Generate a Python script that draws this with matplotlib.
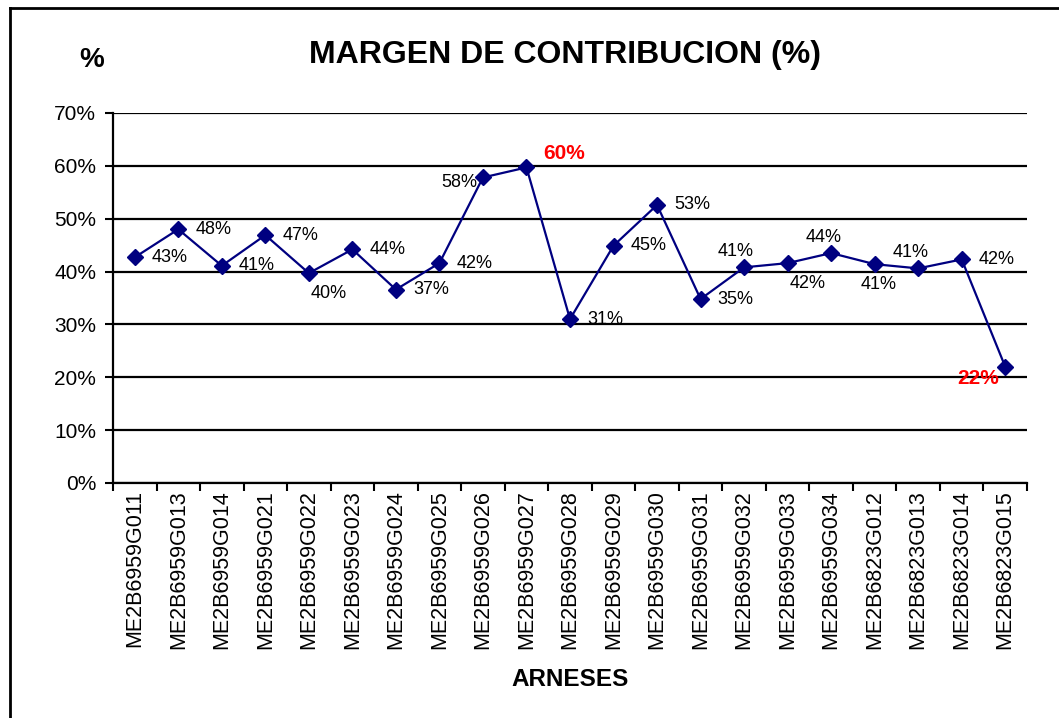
import matplotlib
matplotlib.use("Agg")
import matplotlib.pyplot as plt
from matplotlib.lines import Line2D
import numpy as np

plt.rcParams['font.family'] = ['Liberation Sans', 'DejaVu Sans']

categories = ["ME2B6959G011", "ME2B6959G013", "ME2B6959G014", "ME2B6959G021",
              "ME2B6959G022", "ME2B6959G023", "ME2B6959G024", "ME2B6959G025",
              "ME2B6959G026", "ME2B6959G027", "ME2B6959G028", "ME2B6959G029",
              "ME2B6959G030", "ME2B6959G031", "ME2B6959G032", "ME2B6959G033",
              "ME2B6959G034", "ME2B6823G012", "ME2B6823G013", "ME2B6823G014",
              "ME2B6823G015"]
values = [42.7, 48.0, 41.1, 46.9, 39.7, 44.2, 36.6, 41.6, 57.8, 59.7, 31.0,
          44.9, 52.6, 34.8, 40.8, 41.6, 43.5, 41.4, 40.6, 42.3, 22.0]
# label placement keys
label_pos = ["r", "r", "r", "r", "br", "r", "r", "r", "l", "ar", "r",
             "r", "r", "r", "a", "br", "a", "b", "a", "r", "bl"]
highlight = [9, 20]

W, H = 1059, 718
fig = plt.figure(figsize=(W / 100, H / 100), dpi=100)
ax = fig.add_axes([113 / W, 1 - 483 / H, (1027 - 113) / W, (483 - 113) / H])

n = len(categories)
x = np.arange(n) + 0.5
ax.plot(x, values, color="#000080", lw=1.6, marker="D", ms=8,
        markerfacecolor="#000080", markeredgecolor="#000080", zorder=3, clip_on=False)

ax.set_xlim(0, n)
ax.set_ylim(0, 70)
ax.set_yticks(np.arange(0, 71, 10))
ax.set_yticklabels([f"{v}%" for v in range(0, 71, 10)], fontsize=15)
ax.yaxis.grid(True, color="black", lw=1.6)
ax.set_axisbelow(True)

ax.set_xticks(np.arange(0, n + 1))
ax.set_xticklabels([])
ax.set_xticks(x, minor=True)
ax.set_xticklabels(categories, minor=True, rotation=90, fontsize=15.5, va="top")
ax.tick_params(axis="x", which="minor", length=0, pad=5)
ax.tick_params(axis="x", which="major", length=6, width=1.5, direction="out")
ax.tick_params(axis="y", length=6, width=1.5, direction="out", pad=6)

for s in ["top", "right"]:
    ax.spines[s].set_visible(False)
ax.spines["left"].set_linewidth(1.6)
ax.spines["bottom"].set_linewidth(1.6)

offsets = {
    "r": (17, 0, "left", "center"),
    "l": (-6, -5, "right", "center"),
    "a": (-8, 16, "center", "center"),
    "b": (4, -20, "center", "center"),
    "br": (20, -20, "center", "center"),
    "ar": (38, 14, "center", "center"),
    "bl": (-27, -12, "center", "center"),
}
for i, (xi, v) in enumerate(zip(x, values)):
    dx, dy, ha, va = offsets[label_pos[i]]
    txt = f"{round(v):d}%"
    if i in highlight:
        ax.annotate(txt, (xi, v), xytext=(dx * 0.72, dy * 0.72), textcoords="offset points",
                    ha=ha, va=va, fontsize=15, fontweight="bold", color="#ff0000",
                    annotation_clip=False)
    else:
        ax.annotate(txt, (xi, v), xytext=(dx * 0.72, dy * 0.72), textcoords="offset points",
                    ha=ha, va=va, fontsize=13, color="black", annotation_clip=False)

fig.text(565 / W, 1 - 55 / H, "MARGEN DE CONTRIBUCION (%)", ha="center", va="center",
         fontsize=23, fontweight="bold")
fig.text(92 / W, 1 - 60 / H, "%", ha="center", va="center", fontsize=20, fontweight="bold")
fig.text(570 / W, 1 - 680 / H, "ARNESES", ha="center", va="center", fontsize=17.5,
         fontweight="bold")

# chart border (top and left visible)
fig.add_artist(Line2D([10 / W, 1.0], [1 - 8 / H, 1 - 8 / H], color="black", lw=2,
                      transform=fig.transFigure))
fig.add_artist(Line2D([10 / W, 10 / W], [1 - 8 / H, 0], color="black", lw=2,
                      transform=fig.transFigure))

fig.savefig("out.png", dpi=100)
